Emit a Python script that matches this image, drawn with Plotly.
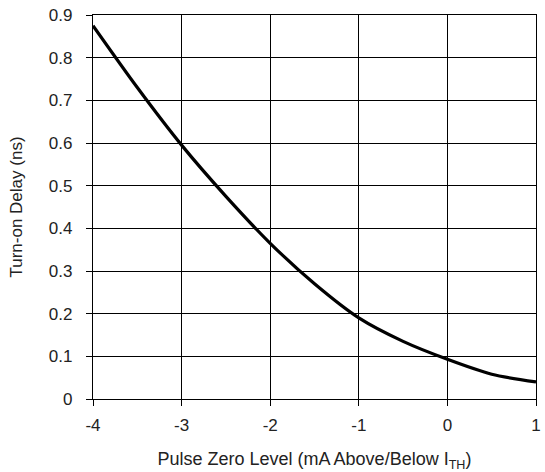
import plotly.graph_objects as go

x_vals = [-4, -3.5, -3, -2.5, -2, -1.5, -1, -0.5, 0, 0.5, 1]
delay_ns = [0.875, 0.73, 0.595, 0.475, 0.365, 0.27, 0.19, 0.135, 0.093, 0.058, 0.04]

x_ticks = [-4, -3, -2, -1, 0, 1]
x_ticktext = ["-4", "-3", "-2", "-1", "0", "1"]
y_ticks = [0, 0.1, 0.2, 0.3, 0.4, 0.5, 0.6, 0.7, 0.8, 0.9]
y_ticktext = ["0", "0.1", "0.2", "0.3", "0.4", "0.5", "0.6", "0.7", "0.8", "0.9"]

fig = go.Figure()
fig.add_trace(go.Scatter(x=x_vals, y=delay_ns, mode="lines",
                         line=dict(color="black", width=3.2, shape="spline", smoothing=0.8),
                         showlegend=False))

font = dict(family="Liberation Sans, Arial, sans-serif", size=17, color="#222")
title_font = dict(family="Liberation Sans, Arial, sans-serif", size=18, color="#222")
fig.update_layout(
    width=545, height=472,
    margin=dict(l=93, r=4, t=15, b=73),
    plot_bgcolor="white", paper_bgcolor="white",
    font=font,
    xaxis=dict(range=[-4, 1], tickvals=x_ticks, ticktext=x_ticktext, ticks="outside", ticklen=6,
               tickwidth=1.3, ticklabelstandoff=4, ticklabeloverflow="allow",
               tickcolor="black", showgrid=True, gridcolor="black", gridwidth=1.3,
               showline=True, linecolor="black", linewidth=1.3, mirror=True,
               zeroline=False, tickfont=font,
               title=dict(text="Pulse Zero Level (mA Above/Below I<sub>TH</sub>)", font=title_font, standoff=19)),
    yaxis=dict(range=[0, 0.9], tickvals=y_ticks, ticktext=y_ticktext, ticks="outside", ticklen=6,
               tickwidth=1.3, ticklabelstandoff=10, ticklabeloverflow="allow", tickcolor="black",
               showgrid=True, gridcolor="black", gridwidth=1.3,
               showline=True, linecolor="black", linewidth=1.3, mirror=True,
               zeroline=False, tickfont=font,
               title=dict(text="Turn-on Delay (ns)", font=font, standoff=21)),
)
fig.write_html("out.html")
